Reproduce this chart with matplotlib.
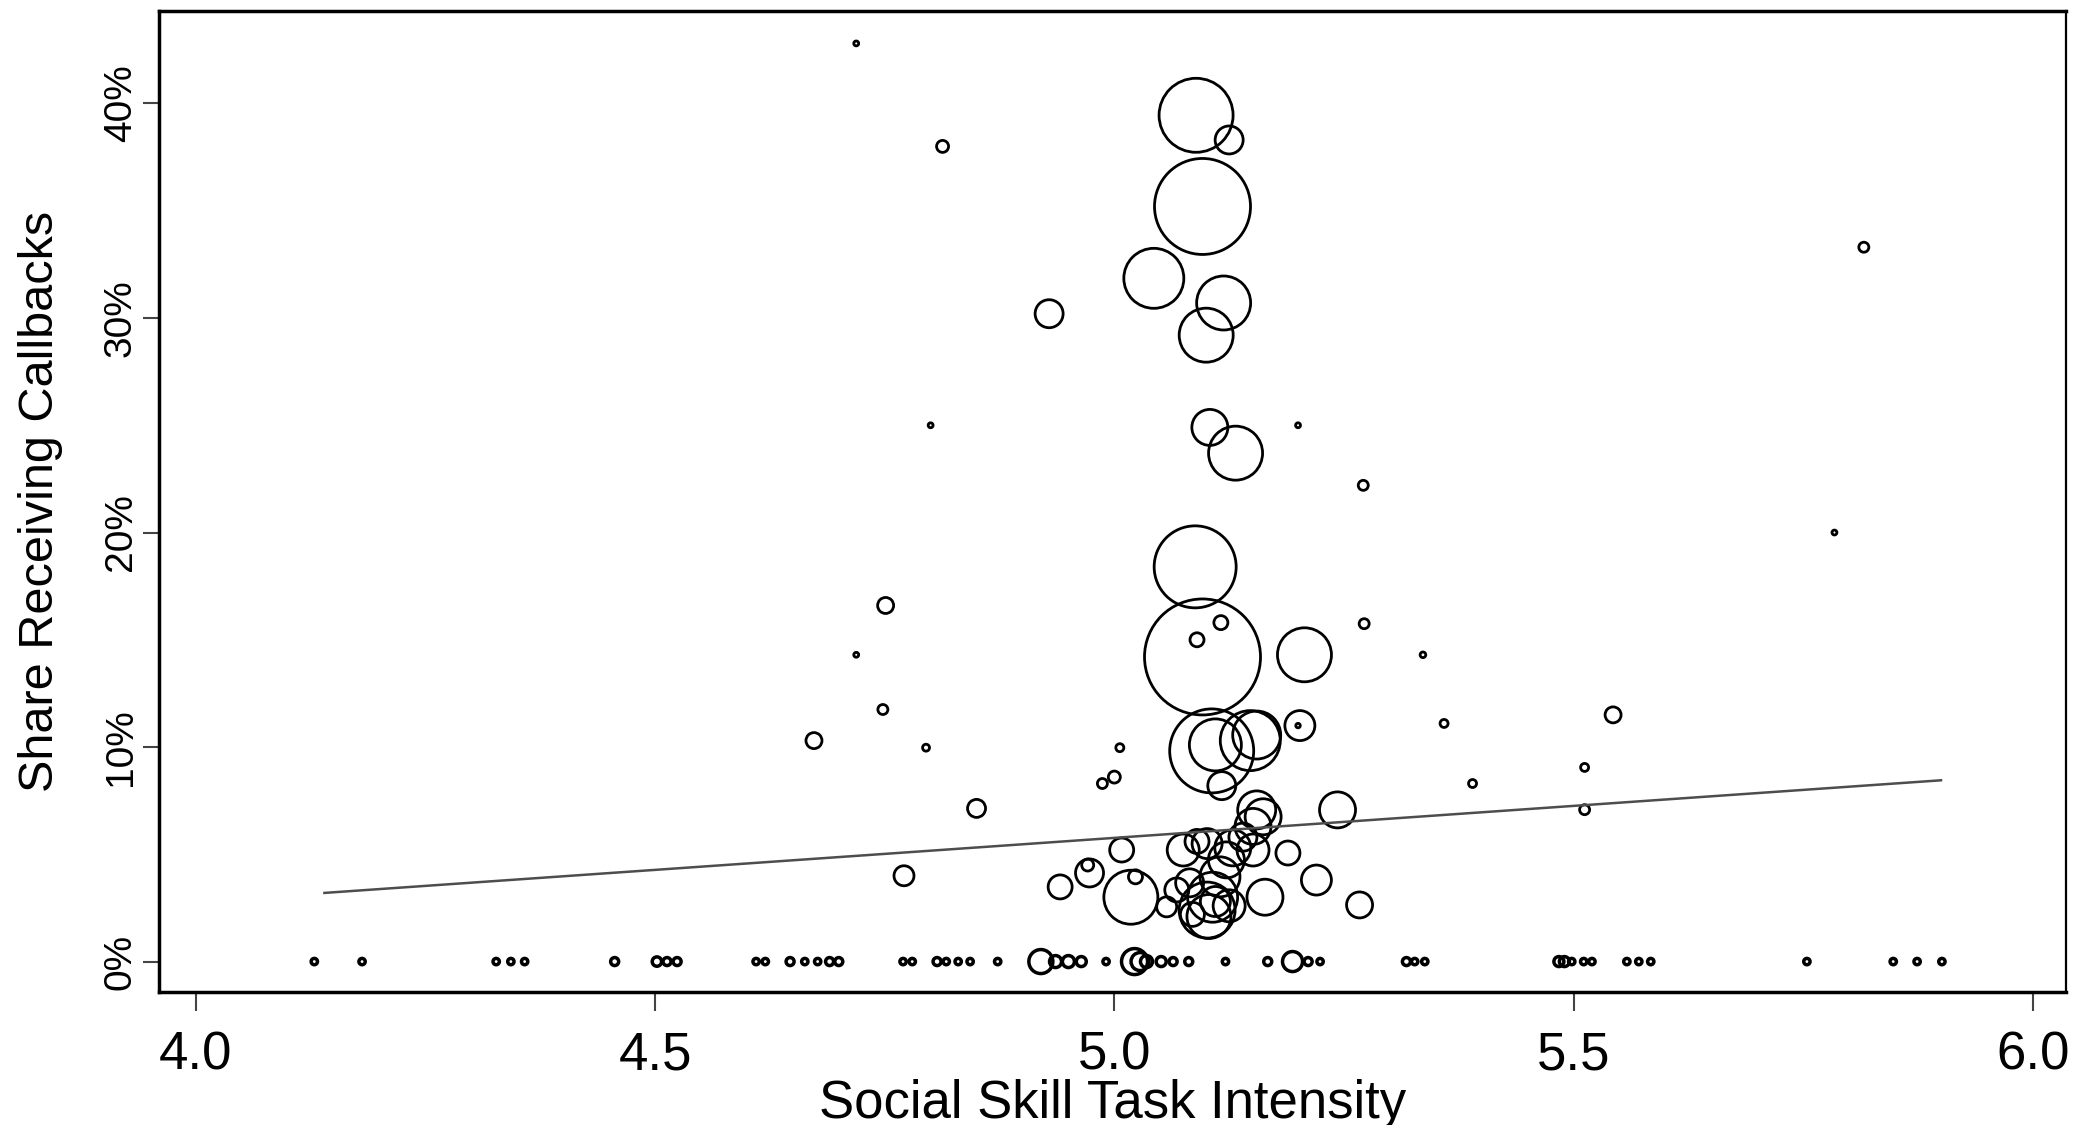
import matplotlib.pyplot as plt
import numpy as np
from matplotlib.ticker import FuncFormatter

plt.rcParams['font.family'] = ['Liberation Sans', 'DejaVu Sans']

# occupations with a positive callback share: social skill intensity, share (%), weight
social = [4.719, 4.813, 5.089, 5.125, 5.096, 5.043, 5.119, 5.100, 4.929, 5.816,
          4.800, 5.200, 5.104, 5.132, 5.271, 5.784, 5.088, 5.096, 5.116, 5.090,
          5.207, 4.751, 5.272, 4.719, 5.336, 4.748, 5.359, 5.543, 4.673, 4.795,
          5.006, 4.987, 5.000, 5.390, 5.512, 5.512, 4.850, 4.771, 5.106, 5.110,
          5.148, 5.155, 5.202, 5.200, 5.117, 5.243, 5.267, 5.220, 5.189, 5.164,
          5.155, 5.151, 4.941, 4.973, 4.971, 5.008, 5.018, 5.023, 5.075, 5.101,
          5.129, 5.151, 5.162, 5.122, 5.107, 5.101, 5.103, 5.068, 5.057, 5.082,
          5.115, 5.140, 5.090, 5.110, 5.085, 5.125]
share = [42.8, 38.0, 39.45, 38.3, 35.2, 31.85, 30.7, 29.2, 30.2, 33.3,
         25.0, 25.0, 24.9, 23.7, 22.2, 20.0, 18.4, 14.2, 15.8, 15.0,
         14.3, 16.6, 15.75, 14.3, 14.3, 11.75, 11.1, 11.5, 10.3, 9.97,
         9.97, 8.3, 8.6, 8.3, 9.05, 7.08, 7.14, 4.0, 9.82, 10.1,
         10.3, 10.56, 11.0, 11.0, 8.2, 7.07, 2.64, 3.8, 5.06, 3.0,
         7.07, 6.3, 3.48, 4.13, 4.5, 5.2, 3.0, 3.95, 5.2, 5.5,
         5.3, 5.2, 6.75, 4.74, 3.0, 2.4, 2.1, 3.34, 2.55, 3.67,
         3.95, 5.8, 5.6, 2.8, 2.2, 2.6]
weight = [6, 36, 1369, 196, 2304, 900, 729, 729, 196, 25,
          6, 6, 324, 729, 25, 6, 1681, 3364, 49, 49,
          729, 64, 25, 6, 8, 25, 16, 64, 64, 12,
          16, 25, 36, 16, 16, 25, 81, 100, 1764, 676,
          900, 576, 225, 5, 196, 324, 169, 225, 144, 324,
          361, 324, 144, 196, 36, 144, 729, 49, 256, 225,
          324, 256, 324, 324, 625, 784, 484, 144, 100, 196,
          400, 196, 144, 225, 144, 256]

# occupations with no callbacks
social_zero = [4.129, 4.181, 4.327, 4.343, 4.358, 4.456, 4.502, 4.513, 4.524, 4.610,
               4.620, 4.647, 4.663, 4.677, 4.690, 4.700, 4.770, 4.780, 4.807, 4.817,
               4.830, 4.843, 4.873, 4.920, 4.936, 4.950, 4.964, 4.991, 5.022, 5.028,
               5.035, 5.051, 5.064, 5.081, 5.121, 5.167, 5.194, 5.211, 5.224, 5.318,
               5.327, 5.338, 5.484, 5.490, 5.498, 5.511, 5.520, 5.558, 5.571, 5.584,
               5.754, 5.848, 5.874, 5.901]
weight_zero = [10, 10, 10, 10, 10, 16, 22, 16, 16, 10,
               10, 16, 10, 10, 16, 16, 10, 10, 16, 10,
               10, 10, 10, 144, 36, 36, 25, 10, 169, 81,
               36, 25, 16, 16, 10, 16, 100, 16, 10, 16,
               10, 10, 25, 25, 10, 10, 10, 10, 10, 10,
               10, 10, 10, 10]

# fitted line end points
fit_x = [4.14, 5.90]
fit_y = [3.2, 8.45]

fig = plt.figure(figsize=(20.74, 11.25), dpi=100)
ax = fig.add_axes([0.0767, 0.1182, 0.9194, 0.8718])

k = (2 * 0.72) ** 2
ax.scatter(social_zero, np.zeros(len(social_zero)), s=np.array(weight_zero) * k,
           facecolors='none', edgecolors='black', linewidths=2.5)
ax.scatter(social, share, s=np.array(weight) * k,
           facecolors='none', edgecolors='black', linewidths=2.0)
ax.plot(fit_x, fit_y, color='#4d4d4d', lw=1.8)

ax.set_xlim(3.96, 6.036)
ax.set_ylim(-1.42, 44.3)
ax.set_xticks([4.0, 4.5, 5.0, 5.5, 6.0])
ax.set_yticks([0, 10, 20, 30, 40])
ax.yaxis.set_major_formatter(FuncFormatter(lambda v, p: '%d%%' % v))

for sp in ax.spines.values():
    sp.set_linewidth(2.5)
ax.spines['right'].set_linewidth(1.6)

ax.tick_params(axis='x', direction='out', length=14, width=1.5, color='#444444',
               labelsize=38, pad=14)
ax.tick_params(axis='y', direction='out', length=11.5, width=1.5, color='#444444',
               labelsize=28, pad=3, labelrotation=90)
for lab in ax.get_yticklabels():
    lab.set_va('center')

ax.set_xlabel('Social Skill Task Intensity', fontsize=38, va='center')
ax.xaxis.set_label_coords(0.5, -0.114)
ax.set_ylabel('Share Receiving Callbacks', fontsize=35, va='center')
ax.yaxis.set_label_coords(-0.0624, 0.5)

fig.savefig('out.png', dpi=100)
